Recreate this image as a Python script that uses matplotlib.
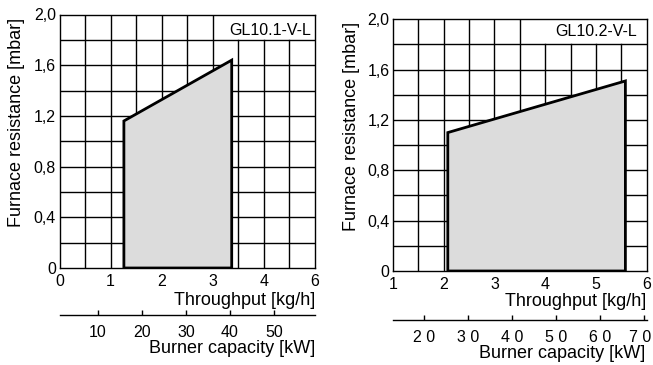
"""Furnace resistance vs throughput working fields for GL10.1-V-L and GL10.2-V-L."""

import matplotlib

matplotlib.use("Agg")
import matplotlib.pyplot as plt
import matplotlib.transforms as mtransforms
from matplotlib.patches import Polygon

plt.rcParams["font.family"] = ["Liberation Sans", "DejaVu Sans"]

# working field corners (throughput kg/h, furnace resistance mbar)
gl101_x = [1.26, 1.26, 3.37, 3.37]
gl101_y = [0.0, 1.16, 1.64, 0.0]
gl102_x = [2.08, 2.08, 5.58, 5.58]
gl102_y = [0.0, 1.10, 1.51, 0.0]

y_ticks = [0.0, 0.4, 0.8, 1.2, 1.6, 2.0]
y_tick_labels = ["0", "0,4", "0,8", "1,2", "1,6", "2,0"]

gl101_x_ticks = [0, 1, 2, 3, 4, 5]
gl101_x_labels = ["0", "1", "2", "3", "4", "6"]
gl102_x_ticks = [1, 2, 3, 4, 5, 6]
gl102_x_labels = ["1", "2", "3", "4", "5", "6"]

gl101_kw_ticks = [10, 20, 30, 40, 50]
gl101_kw_labels = ["10", "20", "30", "40", "50"]
gl102_kw_ticks = [20, 30, 40, 50, 60, 70]
gl102_kw_labels = ["2 0", "3 0", "4 0", "5 0", "6 0", "7 0"]

W, H = 653, 365
fig = plt.figure(figsize=(W / 100, H / 100), dpi=100)


def px_rect(x0, y0, x1, y1):
    return [x0 / W, 1 - y1 / H, (x1 - x0) / W, (y1 - y0) / H]


def draw_panel(rect, xlim, xs, ys, xticks, xlabels, box_col, name, name_xy):
    ax = fig.add_axes(rect)
    ax.set_xlim(*xlim)
    ax.set_ylim(0, 2.0)
    step = (xlim[1] - xlim[0]) / 10
    for i in range(1, 10):
        gx = xlim[0] + i * step
        top = 1.8 if i > box_col else 2.0
        ax.plot([gx, gx], [0, top], color="black", lw=1.0, zorder=1)
    for i in range(1, 10):
        ax.axhline(i * 0.2, color="black", lw=1.0, zorder=1)
    poly = Polygon(
        list(zip(xs, ys)), closed=True, facecolor="#dcdcdc", edgecolor="black",
        lw=2.0, zorder=3, joinstyle="miter",
    )
    ax.add_patch(poly)
    ax.set_xticks(xticks)
    ax.set_xticklabels(xlabels)
    ax.set_yticks(y_ticks)
    ax.set_yticklabels(y_tick_labels)
    ax.tick_params(axis="x", length=0, pad=4.5, labelsize=11.5)
    ax.tick_params(axis="y", length=0, pad=2.5, labelsize=11.5)
    for s in ax.spines.values():
        s.set_linewidth(1.0)
        s.set_zorder(4)
    fig.text(name_xy[0] / W, 1 - name_xy[1] / H, name, ha="right", va="baseline", fontsize=11.5)
    return ax


def draw_kw_axis(x0, x1, y, xlim, ticks, labels):
    ax = fig.add_axes([x0 / W, 1 - y / H, (x1 - x0) / W, 0.001])
    ax.set_xlim(*xlim)
    ax.set_facecolor("none")
    for k in ("top", "left", "right"):
        ax.spines[k].set_visible(False)
    ax.spines["bottom"].set_linewidth(1.0)
    ax.set_yticks([])
    ax.set_xticks(ticks)
    ax.set_xticklabels(labels)
    ax.tick_params(axis="x", direction="in", length=3.5, width=1.0, pad=7.5, labelsize=11.5)
    return ax


# GL10.1-V-L
draw_panel(px_rect(59.5, 14.5, 315, 268), (0, 5), gl101_x, gl101_y,
           gl101_x_ticks, gl101_x_labels, 6, "GL10.1-V-L", (311, 35))
draw_kw_axis(59.5, 315, 315, (1.27, 59.3), gl101_kw_ticks, gl101_kw_labels)
fig.text(315 / W, 1 - 305 / H, "Throughput [kg/h]", ha="right", va="baseline", fontsize=13)
fig.text(315 / W, 1 - 353 / H, "Burner capacity [kW]", ha="right", va="baseline", fontsize=13)
fig.text(17 / W, 1 - 122.5 / H, "Furnace resistance [mbar]", rotation=90,
         ha="center", va="center", fontsize=13)

# GL10.2-V-L
draw_panel(px_rect(393, 19.3, 646.7, 271), (1, 6), gl102_x, gl102_y,
           gl102_x_ticks, gl102_x_labels, 5, "GL10.2-V-L", (636.5, 36))
kw2 = draw_kw_axis(393, 646.7, 320, (12.95, 70.5), gl102_kw_ticks, gl102_kw_labels)
# keep the last kW label inside the picture
last = kw2.get_xticklabels()[-1]
last.set_transform(last.get_transform() + mtransforms.ScaledTranslation(-4 / 100, 0, fig.dpi_scale_trans))
fig.text(646.7 / W, 1 - 306 / H, "Throughput [kg/h]", ha="right", va="baseline", fontsize=13)
fig.text(645 / W, 1 - 358 / H, "Burner capacity [kW]", ha="right", va="baseline", fontsize=13)
fig.text(352 / W, 1 - 126 / H, "Furnace resistance [mbar]", rotation=90,
         ha="center", va="center", fontsize=13)

fig.savefig("out.png", dpi=100)
